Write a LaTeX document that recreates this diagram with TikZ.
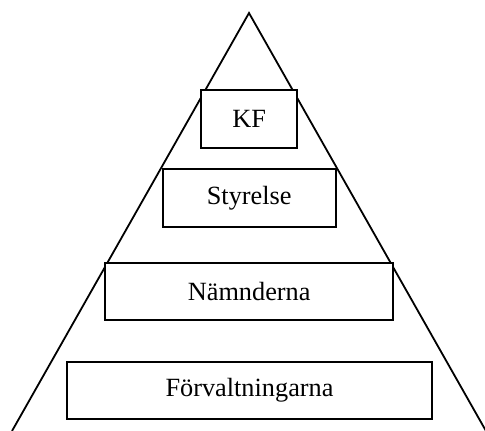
\documentclass[tikz,border=0pt]{standalone}
\usepackage{fontspec}
\setmainfont{Liberation Serif}
\begin{document}
\begin{tikzpicture}[x=1pt,y=-1pt,
  level/.style={draw=black,fill=white,line width=1.8pt,inner sep=0pt,
    font=\fontsize{26.3}{30}\selectfont}]
\useasboundingbox (0,0) rectangle (485,431);
\begin{scope}
\clip (0,0) rectangle (485,431);
\coordinate (apex) at (249,13);
\coordinate (bl) at (12,431);
\coordinate (br) at (486,431);
\draw[line width=1.8pt,line join=miter] (bl) -- (apex) -- (br);
\end{scope}
\node[level,minimum width=96pt,minimum height=57.5pt] (kf) at (249.2,118.9) {KF};
\node[level,minimum width=173pt,minimum height=57.5pt] (sty) at (249.2,198) {Styrelse};
\node[level,minimum width=288pt,minimum height=57.5pt] (nam) at (249.2,291.4) {Nämnderna};
\node[level,minimum width=365.6pt,minimum height=57.6pt] (forv) at (249.5,390.5) {Förvaltningarna};
\end{tikzpicture}
\end{document}
